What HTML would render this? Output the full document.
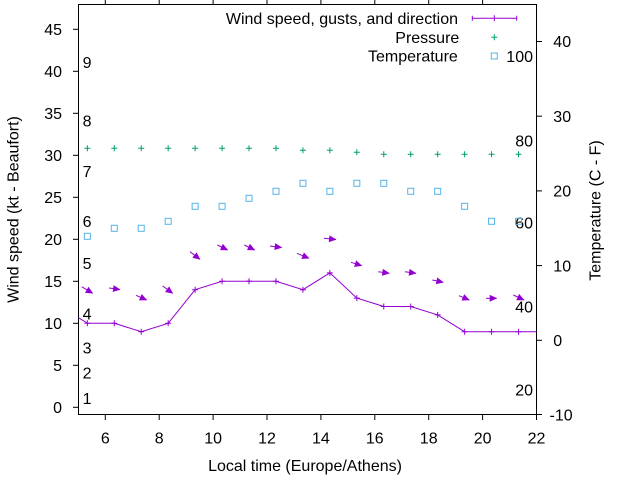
<!DOCTYPE html>
<html>
<head>
<meta charset="utf-8">
<style>
  html,body{margin:0;padding:0;background:#fff;}
  svg{display:block;}
  text{font-family:"Liberation Sans",Arial,sans-serif;font-size:16px;fill:#000;}
</style>
</head>
<body>
<svg width="640" height="480" viewBox="0 0 640 480" xmlns="http://www.w3.org/2000/svg">
  <defs>
    <marker id="ah" markerUnits="userSpaceOnUse" markerWidth="8" markerHeight="7" refX="7" refY="3.5" orient="auto">
      <path d="M0,0 L7.5,3.5 L0,7 Z" fill="#9400d3"/>
    </marker>
  </defs>
  <rect width="640" height="480" fill="#fff"/>

  <!-- border -->
  <rect x="78.5" y="4.5" width="458" height="410" fill="none" stroke="#000" stroke-width="1"/>

  <!-- left y ticks -->
  <g stroke="#000" stroke-width="1">
    <line x1="73" y1="407.3" x2="78.5" y2="407.3"/>
    <line x1="73" y1="365.3" x2="78.5" y2="365.3"/>
    <line x1="73" y1="323.3" x2="78.5" y2="323.3"/>
    <line x1="73" y1="281.3" x2="78.5" y2="281.3"/>
    <line x1="73" y1="239.3" x2="78.5" y2="239.3"/>
    <line x1="73" y1="197.3" x2="78.5" y2="197.3"/>
    <line x1="73" y1="155.3" x2="78.5" y2="155.3"/>
    <line x1="73" y1="113.3" x2="78.5" y2="113.3"/>
    <line x1="73" y1="71.3" x2="78.5" y2="71.3"/>
    <line x1="73" y1="29.3" x2="78.5" y2="29.3"/>
    <!-- right y2 ticks -->
    <line x1="536.5" y1="414.5" x2="542" y2="414.5"/>
    <line x1="536.5" y1="340.3" x2="542" y2="340.3"/>
    <line x1="536.5" y1="265.6" x2="542" y2="265.6"/>
    <line x1="536.5" y1="190.9" x2="542" y2="190.9"/>
    <line x1="536.5" y1="116.2" x2="542" y2="116.2"/>
    <line x1="536.5" y1="41.5" x2="542" y2="41.5"/>
    <!-- bottom x ticks -->
    <line x1="105.3" y1="414.5" x2="105.3" y2="420"/>
    <line x1="159.2" y1="414.5" x2="159.2" y2="420"/>
    <line x1="213.1" y1="414.5" x2="213.1" y2="420"/>
    <line x1="267.0" y1="414.5" x2="267.0" y2="420"/>
    <line x1="320.9" y1="414.5" x2="320.9" y2="420"/>
    <line x1="374.8" y1="414.5" x2="374.8" y2="420"/>
    <line x1="428.7" y1="414.5" x2="428.7" y2="420"/>
    <line x1="482.6" y1="414.5" x2="482.6" y2="420"/>
    <line x1="536.5" y1="414.5" x2="536.5" y2="420"/>
    <!-- top x ticks -->
    <line x1="105.3" y1="0" x2="105.3" y2="4.5"/>
    <line x1="159.2" y1="0" x2="159.2" y2="4.5"/>
    <line x1="213.1" y1="0" x2="213.1" y2="4.5"/>
    <line x1="267.0" y1="0" x2="267.0" y2="4.5"/>
    <line x1="320.9" y1="0" x2="320.9" y2="4.5"/>
    <line x1="374.8" y1="0" x2="374.8" y2="4.5"/>
    <line x1="428.7" y1="0" x2="428.7" y2="4.5"/>
    <line x1="482.6" y1="0" x2="482.6" y2="4.5"/>
  </g>

  <!-- left tick labels -->
  <g text-anchor="end">
    <text x="62" y="413">0</text>
    <text x="62" y="371">5</text>
    <text x="62" y="329">10</text>
    <text x="62" y="287">15</text>
    <text x="62" y="245">20</text>
    <text x="62" y="203">25</text>
    <text x="62" y="161">30</text>
    <text x="62" y="119">35</text>
    <text x="62" y="77">40</text>
    <text x="62" y="35">45</text>
  </g>

  <!-- right tick labels -->
  <text x="549.5" y="420.5">-10</text>
  <text x="553.3" y="346">0</text>
  <text x="553.3" y="271.3">10</text>
  <text x="553.3" y="196.6">20</text>
  <text x="553.3" y="121.9">30</text>
  <text x="553.3" y="47.2">40</text>

  <!-- bottom tick labels -->
  <g text-anchor="middle">
    <text x="105.3" y="443.3">6</text>
    <text x="159.2" y="443.3">8</text>
    <text x="213.1" y="443.3">10</text>
    <text x="267.0" y="443.3">12</text>
    <text x="320.9" y="443.3">14</text>
    <text x="374.8" y="443.3">16</text>
    <text x="428.7" y="443.3">18</text>
    <text x="482.6" y="443.3">20</text>
    <text x="536.5" y="443.3">22</text>
  </g>

  <!-- axis titles -->
  <text x="305" y="471" text-anchor="middle">Local time (Europe/Athens)</text>
  <text transform="translate(18.5,209.5) rotate(-90)" text-anchor="middle">Wind speed (kt - Beaufort)</text>
  <text transform="translate(600.5,210.5) rotate(-90)" text-anchor="middle">Temperature (C - F)</text>

  <!-- Beaufort labels -->
  <text x="82.6" y="404">1</text>
  <text x="82.6" y="378.7">2</text>
  <text x="82.6" y="353.5">3</text>
  <text x="82.6" y="319.5">4</text>
  <text x="82.6" y="269">5</text>
  <text x="82.6" y="227">6</text>
  <text x="82.6" y="177">7</text>
  <text x="82.6" y="126.5">8</text>
  <text x="82.6" y="67.8">9</text>

  <!-- Fahrenheit labels -->
  <g text-anchor="end">
    <text x="533" y="62">100</text>
    <text x="533" y="146.4">80</text>
    <text x="533" y="228.7">60</text>
    <text x="533" y="312.4">40</text>
    <text x="533" y="395.7">20</text>
  </g>

  <!-- Temperature squares -->
  <g fill="none" stroke="#56b4e9" stroke-width="1">
    <rect x="84.33" y="233.3" width="6" height="6"/>
    <rect x="111.28" y="225.3" width="6" height="6"/>
    <rect x="138.23" y="225.3" width="6" height="6"/>
    <rect x="165.18" y="218.3" width="6" height="6"/>
    <rect x="192.13" y="203.3" width="6" height="6"/>
    <rect x="219.08" y="203.3" width="6" height="6"/>
    <rect x="246.03" y="195.3" width="6" height="6"/>
    <rect x="272.98" y="188.3" width="6" height="6"/>
    <rect x="299.93" y="180.3" width="6" height="6"/>
    <rect x="326.88" y="188.3" width="6" height="6"/>
    <rect x="353.83" y="180.3" width="6" height="6"/>
    <rect x="380.78" y="180.3" width="6" height="6"/>
    <rect x="407.73" y="188.3" width="6" height="6"/>
    <rect x="434.68" y="188.3" width="6" height="6"/>
    <rect x="461.63" y="203.3" width="6" height="6"/>
    <rect x="488.58" y="218.3" width="6" height="6"/>
    <rect x="515.53" y="218.3" width="6" height="6"/>
    <!-- legend -->
    <rect x="491.3" y="53" width="6" height="6"/>
  </g>

  <!-- Pressure plus markers -->
  <g stroke="#009e73" stroke-width="1" fill="none">
    <path d="M84.33,148.3h6M87.33,145.3v6
             M111.28,148.3h6M114.28,145.3v6
             M138.23,148.3h6M141.23,145.3v6
             M165.18,148.3h6M168.18,145.3v6
             M192.13,148.3h6M195.13,145.3v6
             M219.08,148.3h6M222.08,145.3v6
             M246.03,148.3h6M249.03,145.3v6
             M272.98,148.3h6M275.98,145.3v6
             M299.93,150.3h6M302.93,147.3v6
             M326.88,150.3h6M329.88,147.3v6
             M353.83,152.3h6M356.83,149.3v6
             M380.78,154.3h6M383.78,151.3v6
             M407.73,154.3h6M410.73,151.3v6
             M434.68,154.3h6M437.68,151.3v6
             M461.63,154.3h6M464.63,151.3v6
             M488.58,154.3h6M491.58,151.3v6
             M515.53,154.3h6M518.53,151.3v6
             M491.3,37.3h6M494.3,34.3v6"/>
  </g>

  <!-- Wind speed line -->
  <g stroke="#9400d3" stroke-width="1" fill="none">
    <polyline points="78.5,317.7 87.33,323.3 114.28,323.3 141.23,331.7 168.18,323.3 195.13,289.7 222.08,281.3 249.03,281.3 275.98,281.3 302.93,289.7 329.88,272.9 356.83,298.1 383.78,306.5 410.73,306.5 437.68,314.9 464.63,331.7 491.58,331.7 518.53,331.7 536.5,331.7"/>
    <path d="M84.33,323.3h6M87.33,320.3v6
             M111.28,323.3h6M114.28,320.3v6
             M138.23,331.7h6M141.23,328.7v6
             M165.18,323.3h6M168.18,320.3v6
             M192.13,289.7h6M195.13,286.7v6
             M219.08,281.3h6M222.08,278.3v6
             M246.03,281.3h6M249.03,278.3v6
             M272.98,281.3h6M275.98,278.3v6
             M299.93,289.7h6M302.93,286.7v6
             M326.88,272.9h6M329.88,269.9v6
             M353.83,298.1h6M356.83,295.1v6
             M380.78,306.5h6M383.78,303.5v6
             M407.73,306.5h6M410.73,303.5v6
             M434.68,314.9h6M437.68,311.9v6
             M461.63,331.7h6M464.63,328.7v6
             M488.58,331.7h6M491.58,328.7v6
             M515.53,331.7h6M518.53,328.7v6"/>
    <!-- legend sample -->
    <path d="M472.3,18.3H516.7M472.3,15.8v5M516.7,15.8v5M491.3,18.3h6M494.3,15.3v6"/>
  </g>

  <!-- Wind direction arrows -->
  <g stroke="#9400d3" stroke-width="1" fill="none" marker-end="url(#ah)">
    <line x1="81.7" y1="286.7" x2="92.7" y2="293.3"/>
    <line x1="109" y1="288" x2="120" y2="289.5"/>
    <line x1="136" y1="295.3" x2="146.7" y2="300"/>
    <line x1="162.7" y1="286" x2="172.7" y2="293.3"/>
    <line x1="190" y1="251.7" x2="200" y2="259.3"/>
    <line x1="217.3" y1="245" x2="227.7" y2="250"/>
    <line x1="244.3" y1="245" x2="254.7" y2="250"/>
    <line x1="270" y1="246" x2="281.7" y2="247.5"/>
    <line x1="297" y1="253.3" x2="309" y2="258.3"/>
    <line x1="324" y1="238.3" x2="336" y2="239.5"/>
    <line x1="351" y1="262.3" x2="361.7" y2="265.7"/>
    <line x1="378.3" y1="271.7" x2="389.3" y2="273.3"/>
    <line x1="405" y1="271.7" x2="416" y2="273.3"/>
    <line x1="432.3" y1="280" x2="443.3" y2="282.3"/>
    <line x1="459" y1="295.7" x2="469.3" y2="300"/>
    <line x1="486" y1="298.3" x2="496.7" y2="298.3"/>
    <line x1="513.3" y1="295" x2="524" y2="300"/>
  </g>

  <!-- legend text -->
  <g text-anchor="end">
    <text x="458" y="24">Wind speed, gusts, and direction</text>
    <text x="459.3" y="43">Pressure</text>
    <text x="457.8" y="61.7">Temperature</text>
  </g>
</svg>
</body>
</html>
